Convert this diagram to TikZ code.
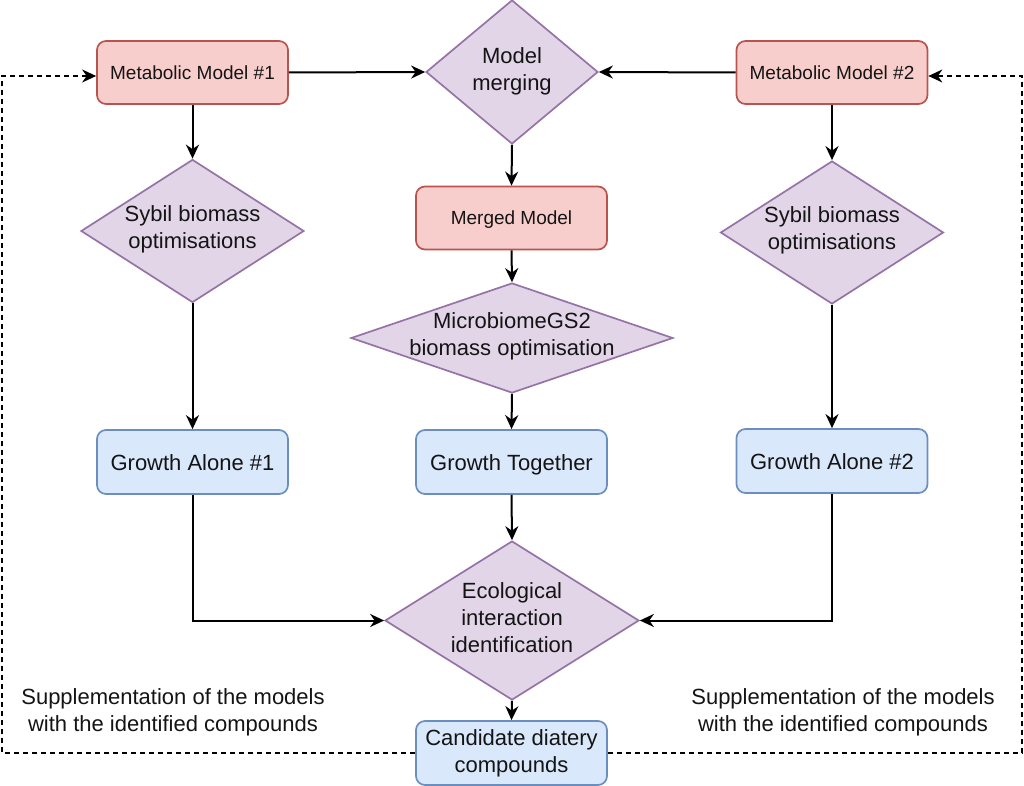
\documentclass[tikz,border=0pt]{standalone}
\usepackage{fontspec}
\setmainfont{Liberation Sans}
\usetikzlibrary{arrows.meta,shapes.geometric,calc}
\definecolor{redfill}{HTML}{F8CECC}
\definecolor{redline}{HTML}{B85450}
\definecolor{purfill}{HTML}{E1D5E7}
\definecolor{purline}{HTML}{9673A6}
\definecolor{bluefill}{HTML}{DAE8FC}
\definecolor{blueline}{HTML}{6C8EBF}
\definecolor{txtcol}{HTML}{141414}
\tikzset{
  redbox/.style={draw=redline, fill=redfill, line width=1.7pt, rounded corners=9pt,
    minimum width=191pt, minimum height=63pt, inner sep=0pt,
    font=\fontsize{19}{23}\selectfont, text=txtcol, text height=14pt, text depth=0pt},
  bluebox/.style={draw=blueline, fill=bluefill, line width=1.7pt, rounded corners=9pt,
    minimum width=191pt, minimum height=64pt, inner sep=0pt, align=center,
    font=\fontsize{22}{27}\selectfont, text=txtcol},
  oneline/.style={text height=16pt, text depth=0pt},
  dia/.style={draw=purline, fill=purfill, line width=1.7pt, diamond, inner sep=0pt},
  txt/.style={align=center, inner sep=0pt, font=\fontsize{22}{27}\selectfont, text=txtcol},
  arr/.style={line width=2pt, -{Stealth[length=14pt,width=13pt,inset=4.5pt]}},
  darr/.style={line width=1.7pt, dash pattern=on 5pt off 4pt, -{Stealth[length=14pt,width=13pt,inset=4.5pt]}}
}
\begin{document}
\begin{tikzpicture}[x=1pt,y=-1pt]
\useasboundingbox (0,0) rectangle (1024,786);
% nodes
\node[redbox] (mm1) at (192.5,72.5) {Metabolic Model \#1};
\node[redbox] (mm2) at (832,72.5) {Metabolic Model \#2};
\node[dia, minimum width=172pt, minimum height=144pt] (merge) at (512,72) {};
\node[txt] (mergetxt) at (512,71) {Model\\merging};
\node[redbox] (merged) at (511.5,218) {Merged Model};
\node[dia, minimum width=223pt, minimum height=143pt] (syb1) at (192.5,231) {};
\node[txt] (syb1txt) at (192.5,229) {Sybil biomass\\optimisations};
\node[dia, minimum width=223pt, minimum height=143pt] (syb2) at (832,232.5) {};
\node[txt] (syb2txt) at (832,230) {Sybil biomass\\optimisations};
\node[dia, minimum width=322pt, minimum height=110pt] (micro) at (512,338) {};
\node[txt] (microtxt) at (512,336) {MicrobiomeGS2\\biomass optimisation};
\node[bluebox, oneline] (ga1) at (192.5,462) {Growth Alone \#1};
\node[bluebox, oneline] (gt) at (511.5,462) {Growth Together};
\node[bluebox, oneline] (ga2) at (832,461) {Growth Alone \#2};
\node[dia, minimum width=254pt, minimum height=159pt] (eco) at (512,620.5) {};
\node[txt] (ecotxt) at (512,618) {Ecological\\interaction\\identification};
\node[bluebox] (cand) at (511.5,753) {Candidate diatery\\compounds};
\node[txt] (supl) at (173,712) {Supplementation of the models\\with the identified compounds};
\node[txt] (supr) at (843,712) {Supplementation of the models\\with the identified compounds};
\coordinate (lc) at (2,76);
\coordinate (rc) at (1022,76);
% connectors
\draw[arr] (mm1.east) -- (merge.west);
\draw[arr] (mm2.west) -- (merge.east);
\draw[arr] (merge.south) -- (merged.north);
\draw[arr] (merged.south) -- (micro.north);
\draw[arr] (micro.south) -- (gt.north);
\draw[arr] (gt.south) -- (eco.north);
\draw[arr] (eco.south) -- (cand.north);
\draw[arr] (mm1.south) -- (syb1.north);
\draw[arr] (syb1.south) -- (ga1.north);
\draw[arr] (mm2.south) -- (syb2.north);
\draw[arr] (syb2.south) -- (ga2.north);
\draw[arr] (ga1.south) |- (eco.west);
\draw[arr] (ga2.south) |- (eco.east);
\draw[darr] (cand.west) -| (lc) -- (lc -| mm1.west);
\draw[darr] (cand.east) -| (rc) -- (rc -| mm2.east);
\end{tikzpicture}
\end{document}
